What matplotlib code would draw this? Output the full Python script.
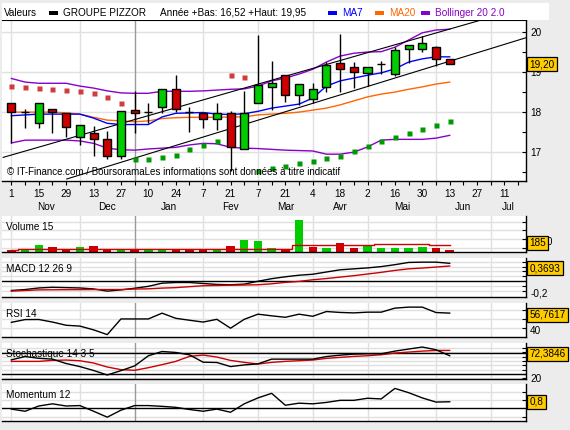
import numpy as np
import matplotlib
matplotlib.use("Agg")
import matplotlib.pyplot as plt
import matplotlib.dates as mdates
import matplotlib.transforms as mtransforms
from matplotlib.patches import Rectangle

plt.rcParams['font.family'] = ['Liberation Sans', 'DejaVu Sans']
plt.rcParams['font.size'] = 7.2

# --- data: weekly candles from Monday 1 Nov 2010 ---
first_week = '2010-11-01'
opens = [18.22, 18.00, 17.72, 18.09, 17.99, 17.38, 17.48, 17.34, 16.90, 18.06, 18.00,
         18.12, 18.57, 18.01, 17.99, 17.82, 17.99, 17.09, 18.22, 18.62, 18.92, 18.42,
         18.32, 18.63, 19.22, 19.12, 18.97, 19.19, 18.94, 19.57, 19.57, 19.62, 19.33]
highs = [18.22, 18.08, 18.22, 18.09, 17.99, 17.67, 17.65, 17.53, 18.02, 18.52, 18.23,
         18.57, 18.93, 18.12, 17.99, 18.23, 18.02, 18.52, 19.92, 19.27, 18.92, 18.69,
         18.73, 19.26, 19.95, 19.26, 19.12, 19.28, 19.63, 19.67, 19.90, 19.65, 19.33]
lows = [17.23, 17.60, 17.61, 17.48, 17.38, 17.19, 16.91, 16.83, 16.83, 17.48, 17.72,
        17.98, 18.01, 17.51, 17.60, 17.55, 16.52, 17.09, 18.22, 18.05, 18.26, 18.17,
        18.23, 18.51, 18.51, 18.59, 18.65, 18.94, 18.91, 19.23, 19.51, 19.15, 19.20]
closes = [18.00, 18.00, 18.22, 18.00, 17.62, 17.67, 17.33, 16.90, 18.02, 17.99, 18.00,
          18.57, 18.07, 18.01, 17.82, 17.99, 17.13, 17.99, 18.67, 18.72, 18.42, 18.69,
          18.57, 19.17, 19.07, 18.99, 19.12, 19.19, 19.56, 19.67, 19.72, 19.32, 19.20]

ma7 = [17.91, 17.93, 17.95, 17.95, 17.95, 17.95, 17.85, 17.72, 17.69, 17.69, 17.69,
       17.88, 17.97, 17.98, 17.99, 17.95, 17.94, 17.96, 18.02, 18.10, 18.15, 18.20,
       18.35, 18.65, 18.78, 18.85, 18.92, 18.98, 19.08, 19.25, 19.33, 19.38, 19.38]
ma20 = [18.00, 18.00, 18.00, 18.00, 17.98, 17.95, 17.87, 17.80, 17.78, 17.76, 17.78,
        17.84, 17.86, 17.87, 17.87, 17.87, 17.88, 17.88, 17.93, 17.95, 17.97, 18.00,
        18.05, 18.10, 18.18, 18.28, 18.38, 18.45, 18.50, 18.57, 18.63, 18.70, 18.75]
boll_up = [18.84, 18.75, 18.72, 18.72, 18.72, 18.65, 18.60, 18.53, 18.48, 18.47, 18.47,
           18.52, 18.52, 18.52, 18.53, 18.55, 18.57, 18.58, 18.65, 18.78, 18.85, 18.95,
           19.07, 19.25, 19.40, 19.47, 19.50, 19.51, 19.62, 19.80, 19.98, 20.05, 20.07]
boll_low = [17.23, 17.30, 17.30, 17.30, 17.30, 17.28, 17.22, 17.10, 17.06, 17.05, 17.08,
            17.10, 17.12, 17.18, 17.22, 17.21, 17.12, 17.10, 17.09, 17.07, 17.05, 17.04,
            17.03, 16.95, 16.95, 17.00, 17.13, 17.30, 17.32, 17.32, 17.32, 17.35, 17.42]
sar = [18.64, 18.62, 18.59, 18.57, 18.54, 18.52, 18.47, 18.37, 18.24, 16.82, 16.84,
       16.87, 16.94, 17.07, 17.17, 17.27, 18.93, 18.88, 16.52, 16.60, 16.65, 16.72,
       16.77, 16.85, 16.90, 17.02, 17.15, 17.27, 17.37, 17.47, 17.57, 17.67, 17.77]

# trend channel, (week index, price) at both ends
trend_upper = ([-0.6, 34.3], [16.87, 20.30])
trend_lower = ([4.04, 37.6], [16.33, 19.86])

volume = [250, 185, 730, 510, 330, 510, 620, 330, 330, 330, 330, 330, 330, 330, 330, 330,
          620, 1275, 1165, 470, 290, 3450, 510, 400, 980, 400, 690, 400, 400, 400, 510,
          400, 185]
volume_ma = [250, 300, 360, 360, 360, 360, 360, 360, 360, 360, 360, 360, 360, 360, 360,
             360, 360, 360, 360, 360, 360, 730, 730, 730, 730, 730, 730, 840, 840, 840,
             840, 730, 730]

macd = [-0.200, -0.180, -0.147, -0.133, -0.140, -0.147, -0.167, -0.213, -0.187, -0.153,
        -0.113, -0.047, -0.033, -0.033, -0.053, -0.073, -0.080, -0.067, -0.007, 0.047,
        0.087, 0.120, 0.140, 0.187, 0.233, 0.253, 0.273, 0.300, 0.340, 0.387, 0.393,
        0.393, 0.3693]
macd_signal = [-0.213, -0.200, -0.187, -0.185, -0.183, -0.182, -0.180, -0.180, -0.180,
               -0.170, -0.165, -0.150, -0.140, -0.120, -0.100, -0.095, -0.090, -0.085,
               -0.080, -0.060, -0.030, -0.010, 0.025, 0.050, 0.080, 0.110, 0.145, 0.180,
               0.220, 0.253, 0.270, 0.290, 0.313]
rsi = [46.7, 49.7, 49.8, 47.0, 43.5, 42.6, 38.5, 33.3, 50.4, 50.4, 50.4, 56.7, 51.1, 49.0,
       47.0, 50.0, 40.3, 50.0, 55.6, 53.8, 52.2, 55.6, 53.3, 58.5, 57.5, 57.0, 57.8, 57.8,
       62.2, 63.3, 63.3, 57.4, 56.7617]
stoch_k = [60.6, 70.1, 65.0, 62.6, 50.0, 41.2, 30.0, 17.0, 29.6, 43.2, 72.2, 84.6, 81.8,
           75.0, 53.8, 53.0, 41.2, 46.0, 49.0, 62.6, 62.6, 62.6, 62.6, 70.0, 74.0, 77.0,
           78.0, 78.0, 85.6, 91.6, 97.4, 89.6, 72.3846]
stoch_d = [56.2, 56.2, 56.2, 59.0, 60.0, 58.0, 51.4, 40.0, 32.4, 30.5, 38.0, 46.7, 56.2,
           70.5, 74.3, 68.6, 59.0, 53.3, 48.6, 53.3, 56.2, 58.1, 60.0, 64.8, 67.6, 70.5,
           72.4, 75.2, 80.0, 82.9, 85.7, 87.6, 87.6]
momentum = [-0.08, -0.34, 0.29, 0.55, 0.29, 0.34, -0.34, -1.05, -0.21, 0.34, 0.34, 0.25,
            0.13, -0.13, -0.34, -0.08, -0.46, 0.55, 1.26, 1.81, 0.38, 0.63, 0.55, 0.72,
            0.97, 0.97, 1.22, 1.14, 2.40, 1.89, 1.26, 0.76, 0.80]

month_names = ['Jan', 'Fev', 'Mar', 'Avr', 'Mai', 'Jun', 'Jul', 'Aou', 'Sep', 'Oct',
               'Nov', 'Dec']

# --- layout helpers ---
W, H = 570, 430
GREEN, RED = '#00CC00', '#CC0000'
BG = '#ECECEC'
GRID = '#E0E0E0'

fig = plt.figure(figsize=(W / 100, H / 100), dpi=100, facecolor=BG)


def fr(v):
    return v.replace('.', ',')


def panel(y0, y1):
    ax = fig.add_axes([2 / W, 1 - y1 / H, 524 / W, (y1 - y0) / H])
    ax.set_facecolor('white')
    for side in ('left', 'top'):
        ax.spines[side].set_visible(False)
    for side in ('right', 'bottom'):
        ax.spines[side].set_linewidth(1.0)
    ax.yaxis.tick_right()
    ax.tick_params(axis='y', direction='in', length=3, width=0.8, pad=3, labelsize=7.2)
    return ax


def value_box(ax, y, text):
    trans = mtransforms.blended_transform_factory(ax.transAxes, ax.transData)
    ax.text(1.0 + 3.5 / 524, y, text, transform=trans, ha='left', va='center', fontsize=7.2,
            clip_on=False, zorder=10,
            bbox=dict(boxstyle='square,pad=0.22', fc='#FFCC00', ec='black', lw=0.9))


weeks = np.datetime64(first_week) + np.arange(len(closes)) * np.timedelta64(7, 'D')
x = mdates.date2num(weeks)
all_weeks = np.datetime64(first_week) + np.arange(-1, 39) * np.timedelta64(7, 'D')
xmin = x[0] - 4.8
xmax = x[0] + 263
days = all_weeks.astype(object)
month_starts = [mdates.date2num(d) for d in days if d.day <= 7 and mdates.date2num(d) > xmin]
year_start = [mdates.date2num(d) for d in days if d.month == 1 and d.day <= 7][0]

opens_a, closes_a = np.array(opens), np.array(closes)
up = closes_a >= opens_a

# --- header ---
fig.patches.append(Rectangle((2 / W, 1 - 20 / H), 547 / W, 17 / H, transform=fig.transFigure,
                             fc='white', ec='none', zorder=0))
hy = 1 - 12.5 / H


def legend_item(x0, color, label, tcolor):
    fig.patches.append(Rectangle((x0 / W, hy - 2 / H), 9 / W, 4 / H, transform=fig.transFigure,
                                 fc=color, ec='none'))
    fig.text((x0 + 14) / W, hy, label, color=tcolor, va='center', ha='left', fontsize=7.2)


fig.text(4 / W, hy, 'Valeurs', va='center', ha='left', fontsize=7.2)
legend_item(49, 'black', 'GROUPE PIZZOR', 'black')
fig.text(160 / W, hy, 'Année +Bas: %s +Haut: %s' % (fr('%.2f' % min(lows)), fr('%.2f' % max(highs))),
         va='center', ha='left', fontsize=7.2)
legend_item(328, '#0000FF', 'MA7', '#0000FF')
legend_item(375, '#FF6600', 'MA20', '#FF6600')
legend_item(421, '#8800CC', 'Bollinger 20 2.0', '#8800CC')

# --- main price chart ---
ax = panel(20, 181)
ax.spines['top'].set_visible(True)
ax.set_xlim(xmin, xmax)
ax.set_ylim(16.28, 20.3)
ax.set_yticks([17, 18, 19, 20])
ax.set_yticks(np.arange(16.5, 20.5, 0.5), minor=True)
ax.tick_params(axis='y', which='minor', direction='in', length=3, width=0.8)
ax.set_yticklabels(['17', '18', '19', '20'])
for v in [17, 18, 19, 20]:
    ax.axhline(v, color=GRID, lw=1, zorder=0)
for m in month_starts:
    ax.axvline(m, color='#999999' if m == year_start else GRID, lw=1, zorder=0)

ax.plot(x, boll_up, color='#8800CC', lw=1)
ax.plot(x, boll_low, color='#8800CC', lw=1)
ax.plot(x, ma20, color='#FF6600', lw=1)
ax.plot(x, ma7, color='#0000FF', lw=1)
for tl in (trend_upper, trend_lower):
    tx = mdates.date2num(np.datetime64(first_week)) + np.array(tl[0]) * 7
    ax.plot(tx, tl[1], color='black', lw=0.8)

sar_a = np.array(sar)
above = sar_a > closes_a
ax.plot(x[above], sar_a[above], 's', ms=3.6, color='#D03C3C', mec='none')
ax.plot(x[~above], sar_a[~above], 's', ms=3.6, color='#009900', mec='none')

ax.vlines(x, lows, highs, color='black', lw=1, zorder=3)
body = np.abs(closes_a - opens_a)
ax.bar(x, body, bottom=np.minimum(opens_a, closes_a), width=4.1,
       color=np.where(up, GREEN, RED), edgecolor='black', linewidth=1.0, zorder=4)

value_box(ax, closes[-1], fr('%.2f' % closes[-1]))
ax.text(5 / 524, 0.055, '© IT-Finance.com / BoursoramaLes informations sont données à titre indicatif',
        transform=ax.transAxes, fontsize=7, ha='left', va='center')

ax.set_xticks(mdates.date2num(all_weeks))
ax.set_xticklabels([str(d.day) if i % 2 == 1 else '' for i, d in enumerate(days)])
ax.tick_params(axis='x', direction='out', length=3, width=0.8, pad=3, labelsize=7.2)
bounds = month_starts + [xmax + 20]
for a, b in zip(bounds[:-1], bounds[1:]):
    mid = (a + min(b, xmax)) / 2
    ax.text(mid, -0.16, month_names[mdates.num2date(a).month - 1], transform=ax.get_xaxis_transform(),
            ha='center', va='center', fontsize=7.2)
ax.set_xlim(xmin, xmax)


def lower_panel(y0, y1, ylim, ticks, labels, title, label_drop=2.0):
    p = panel(y0, y1)
    p.set_xlim(xmin, xmax)
    p.set_ylim(*ylim)
    p.set_xticks([])
    p.set_yticks(ticks)
    p.set_yticklabels(labels)
    drop = mtransforms.ScaledTranslation(0, -label_drop / 100, fig.dpi_scale_trans)
    for lab in p.get_yticklabels():
        lab.set_transform(lab.get_transform() + drop)
    for t in ticks:
        p.axhline(t, color=GRID, lw=1, zorder=0)
    for m in month_starts:
        p.axvline(m, color='#999999' if m == year_start else GRID, lw=1, zorder=0)
    p.text(4 / 524, 1 - 10.8 / (y1 - y0), title, transform=p.transAxes, ha='left', va='center',
           fontsize=7.2)
    return p


# volume
vp = lower_panel(216, 252, (0, 3920), [400, 1400, 2400, 3300], ['', '1400', '', ''], 'Volume 15')
vcol = [RED if closes[0] < opens[0] else GREEN] + \
       [GREEN if c >= p else RED for p, c in zip(closes[:-1], closes[1:])]
vp.bar(x, volume, width=4.3, color=vcol, edgecolor='none', zorder=2)
vp.plot(x, volume_ma, color='#CC0000', lw=1, zorder=3, drawstyle='steps-mid')
value_box(vp, 1000, str(volume[-1]))

# MACD
mp = lower_panel(258, 297, (-0.336, 0.48), [-0.2, -0.1, 0.1, 0.2, 0.3, 0.4],
                 ['-0,2', '', '', '', '', ''], 'MACD 12 26 9')
mp.axhline(0, color='black', lw=1)
mp.plot(x, macd, color='black', lw=1)
mp.plot(x, macd_signal, color='#CC0000', lw=1)
value_box(mp, 0.27, fr('%.4f' % macd[-1]))

# RSI
rp = lower_panel(303, 337, (30.7, 67.8), [40, 50, 60], ['40', '', ''], 'RSI 14')
rp.plot(x, rsi, color='black', lw=1)
value_box(rp, 55.0, fr('%.4f' % rsi[-1]))

# Stochastic
sp = lower_panel(343, 379, (5.5, 109), [7.5, 20, 32.5, 45, 57.5, 70, 82.5, 95],
                 ['', '20', '', '', '', '', '', ''], 'Stochastique 14 3 5', label_drop=4.0)
sp.axhline(20, color='black', lw=1)
sp.axhline(80, color='black', lw=1)
sp.plot(x, stoch_d, color='#CC0000', lw=1)
sp.plot(x, stoch_k, color='black', lw=1)
value_box(sp, 78.0, fr('%.4f' % stoch_k[-1]))

# Momentum
op = lower_panel(384, 421, (-1.51, 2.93), [-1, 1, 2], ['', '', ''], 'Momentum 12')
op.axhline(0, color='black', lw=1)
op.plot(x, momentum, color='black', lw=1)
value_box(op, momentum[-1], fr('%.1f' % momentum[-1]))

fig.savefig('out.png', dpi=100, facecolor=BG)
